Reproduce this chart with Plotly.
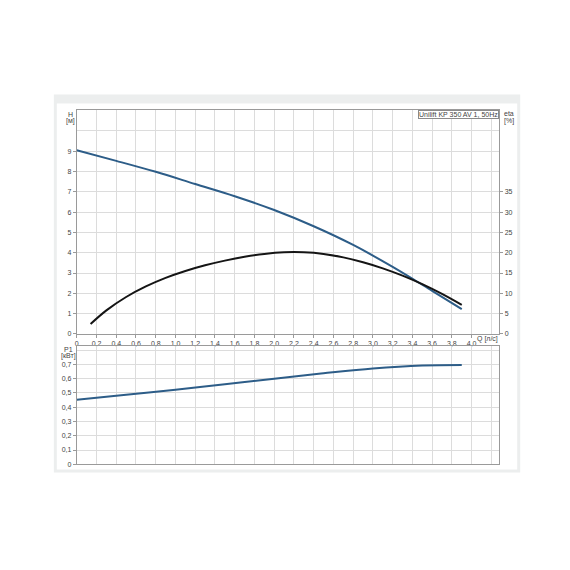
import plotly.graph_objects as go

# ---- data ----
q_head = [0, 0.4, 0.8, 1.2, 1.6, 2.0, 2.4, 2.8, 3.2, 3.6, 3.9]
head_m = [9.04, 8.52, 7.98, 7.38, 6.78, 6.10, 5.30, 4.38, 3.30, 2.12, 1.22]

q_eta = [0.14, 0.3, 0.5, 0.7, 0.9, 1.1, 1.3, 1.5, 1.7, 1.9, 2.1, 2.3, 2.5, 2.7, 2.9, 3.1, 3.3, 3.5, 3.7, 3.9]
eta_pct = [2.45, 5.8, 9.1, 11.7, 13.8, 15.5, 16.9, 18.05, 19.0, 19.7, 20.1, 20.1, 19.7, 18.85, 17.65, 16.15, 14.35, 12.25, 9.85, 7.15]

q_p1 = [0, 0.5, 1.0, 1.5, 2.0, 2.5, 3.0, 3.5, 3.9]
p1_kw = [0.453, 0.487, 0.523, 0.562, 0.600, 0.638, 0.672, 0.693, 0.697]

q_ticks = [round(0.2 * i, 1) for i in range(21)]
q_ticktext = [("0" if v == 0 else f"{v:.1f}".replace(".", ",")) for v in q_ticks]
h_ticks = list(range(10))
eta_ticks = list(range(0, 40, 5))
p_ticks = [round(0.1 * i, 1) for i in range(8)]
p_ticktext = [("0" if v == 0 else f"{v:.1f}".replace(".", ",")) for v in p_ticks]

title_text = "Unilift KP 350 AV 1, 50Hz"

# ---- layout helpers (pixel -> paper), compensating the 8px page margin ----
W = H = 570
OFF = 8
def px(x): return (x - OFF) / W
def py(y): return 1 - (y - OFF) / H

BLUE = "#2d5d88"
BLACK = "#151515"
GRID = "#dcdcdc"
AXIS = "#9a9a9a"
TXT = "#444444"
FONT = "Liberation Sans, Arial, sans-serif"
FS = 7

fig = go.Figure()
fig.add_trace(go.Scatter(x=q_head, y=head_m, mode="lines", line=dict(color=BLUE, width=2, shape="spline"),
                         xaxis="x", yaxis="y", showlegend=False, hoverinfo="skip"))
fig.add_trace(go.Scatter(x=q_eta, y=eta_pct, mode="lines", line=dict(color=BLACK, width=2, shape="spline"),
                         xaxis="x", yaxis="y2", showlegend=False, hoverinfo="skip"))
fig.add_trace(go.Scatter(x=q_p1, y=p1_kw, mode="lines", line=dict(color=BLUE, width=2, shape="spline"),
                         xaxis="x2", yaxis="y3", showlegend=False, hoverinfo="skip"))

xdom = [px(75), px(499)]
xr = [0, 4.28]
common_x = dict(range=xr, domain=xdom, showgrid=True, gridcolor=GRID, gridwidth=1,
                minor=dict(dtick=0.2, tick0=0, showgrid=True, gridcolor=GRID, gridwidth=1),
                zeroline=False, showline=True, linecolor=AXIS, linewidth=1, mirror=True,
                tickfont=dict(size=FS, color=TXT, family=FONT))

fig.update_layout(
    width=W, height=H, margin=dict(l=0, r=0, t=0, b=0),
    paper_bgcolor="white", plot_bgcolor="white",
    font=dict(family=FONT, size=FS, color=TXT),
    xaxis=dict(**common_x, anchor="y", tickmode="array", tickvals=q_ticks, ticktext=q_ticktext,
               ticks="outside", ticklen=3, tickcolor=AXIS),
    yaxis=dict(domain=[py(335.7), py(111)], range=[0, 11], anchor="x",
               tickmode="array", tickvals=h_ticks, ticks="outside", ticklen=3, tickcolor=AXIS,
               showgrid=True, gridcolor=GRID,
               minor=dict(dtick=1, tick0=0, showgrid=True, gridcolor=GRID),
               zeroline=False, showline=True, linecolor=AXIS, mirror=True,
               tickfont=dict(size=FS, color=TXT, family=FONT)),
    yaxis2=dict(overlaying="y", side="right", anchor="x", range=[0, 55],
                tickmode="array", tickvals=eta_ticks, ticks="outside", ticklen=3, tickcolor=AXIS,
                showgrid=False, zeroline=False, showline=True, linecolor=AXIS,
                tickfont=dict(size=FS, color=TXT, family=FONT)),
    xaxis2=dict(**common_x, anchor="y3", tickmode="array", tickvals=q_ticks, showticklabels=False,
                ticks=""),
    yaxis3=dict(domain=[py(466.7), py(347.7)], range=[0, 0.83], anchor="x2",
                tickmode="array", tickvals=p_ticks, ticktext=p_ticktext,
                ticks="outside", ticklen=3, tickcolor=AXIS,
                showgrid=True, gridcolor=GRID,
                minor=dict(dtick=0.1, tick0=0, showgrid=True, gridcolor=GRID),
                zeroline=False, showline=True, linecolor=AXIS, mirror=True,
                tickfont=dict(size=FS, color=TXT, family=FONT)),
)

# background panels
fig.add_shape(type="rect", xref="paper", yref="paper", x0=px(52), x1=px(520), y0=py(475), y1=py(95),
              fillcolor="#eceeee", line=dict(width=0), layer="below")
fig.add_shape(type="rect", xref="paper", yref="paper", x0=px(55), x1=px(517), y0=py(472), y1=py(104),
              fillcolor="white", line=dict(width=0), layer="below")

def ann(text, x, y, xanchor="center", **kw):
    fig.add_annotation(text=text, xref="paper", yref="paper", x=px(x), y=py(y), xanchor=xanchor,
                       yanchor="middle", showarrow=False, font=dict(size=FS, color=TXT, family=FONT), **kw)

ann("H", 68.5, 115)
ann("[м]", 68.5, 122)
ann("eta", 502, 114, xanchor="left")
ann("[%]", 502, 122, xanchor="left")
ann("P1", 67, 351)
ann("[кВт]", 67, 358)
ann("Q [л/с]", 475, 341, xanchor="left")
fig.add_annotation(text=title_text, xref="paper", yref="paper", x=px(499), y=py(111), xanchor="right",
                   yanchor="top", showarrow=False, bgcolor="white", bordercolor="#8a8a8a", borderwidth=1,
                   borderpad=0, font=dict(size=FS, color=TXT, family=FONT))

fig.write_html("out.html")
